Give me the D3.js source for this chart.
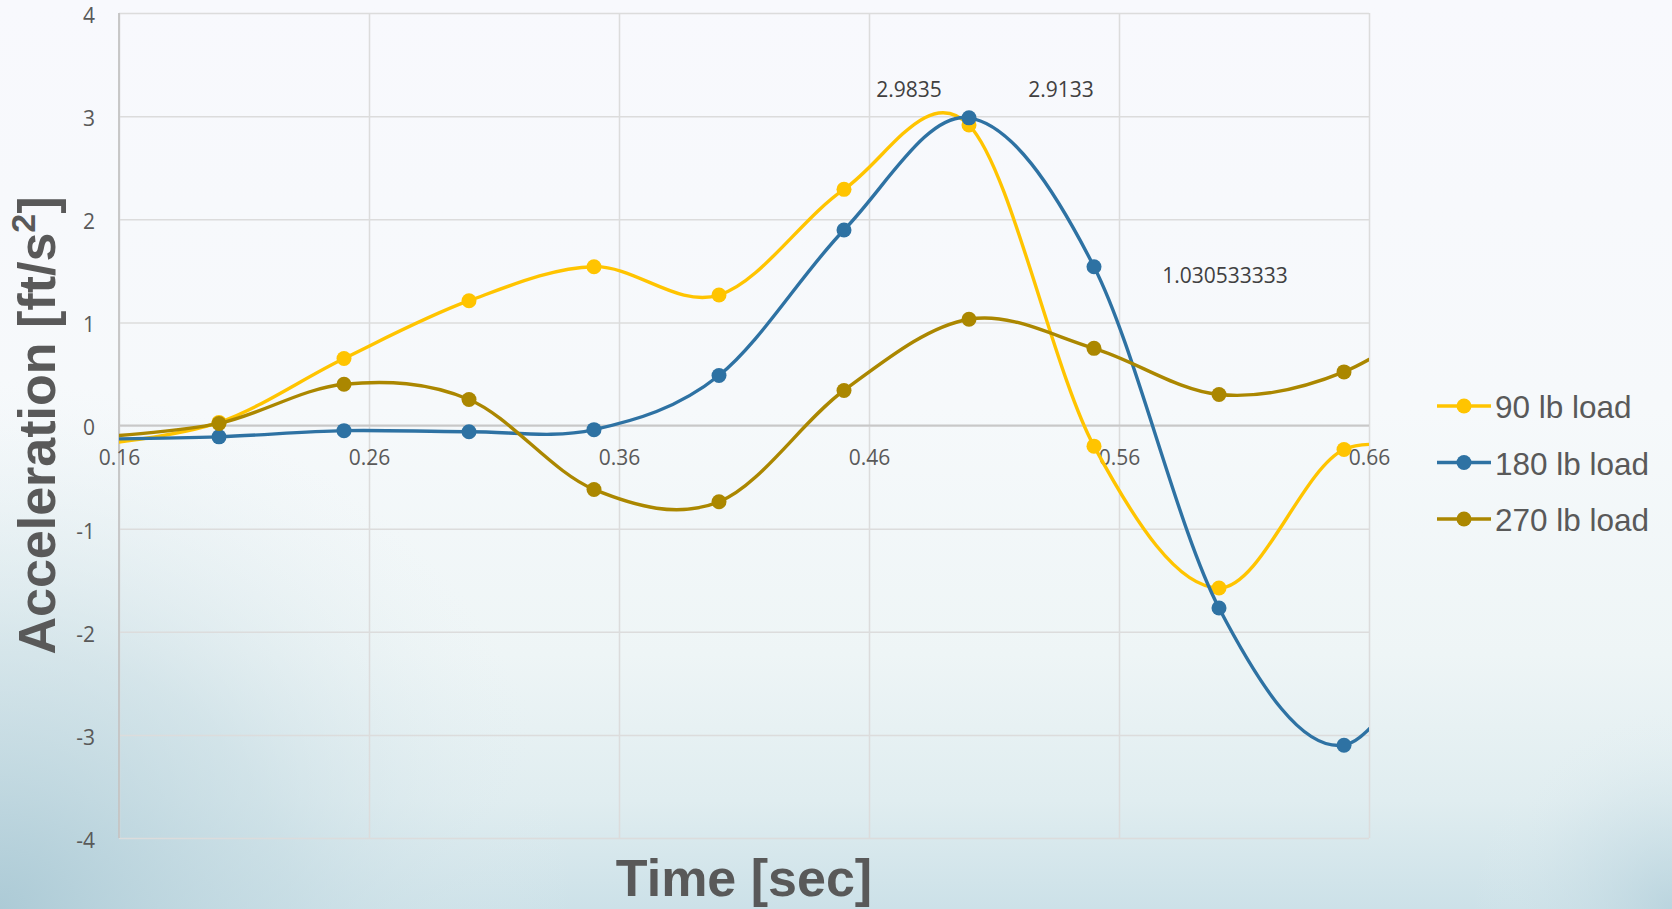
<!DOCTYPE html>
<html>
<head>
<meta charset="utf-8">
<script src="https://cdn.jsdelivr.net/npm/d3@7"></script>
<style>
  html, body { margin: 0; padding: 0; background: #f8f9fc; }
  svg { display: block; }
</style>
</head>
<body>
<svg id="chart" width="1672" height="909"></svg>
<script>
// Sample times (s); the first and last samples sit just outside the visible axis range
const times = [0.15, 0.20, 0.25, 0.30, 0.35, 0.40, 0.45, 0.50, 0.55, 0.60, 0.65, 0.70];

// Acceleration (ft/s^2) for each load
const load90  = [-0.188, 0.03, 0.65, 1.21, 1.54, 1.265, 2.29, 2.9133, -0.20, -1.576, -0.233, -0.45];
const load180 = [-0.132, -0.11, -0.05, -0.06, -0.04, 0.485, 1.896, 2.9835, 1.54, -1.77, -3.10, -1.42];
const load270 = [-0.114, 0.02, 0.40, 0.252, -0.62, -0.74, 0.34, 1.030533333, 0.748, 0.30, 0.52, 1.28];

const seriesNames  = ["90 lb load", "180 lb load", "270 lb load"];
const seriesColors = ["#ffc400", "#2e72a3", "#ab8700"];

// Axis setup
const xDomain = [0.16, 0.66];
const yDomain = [-4, 4];
const xTicks = [0.16, 0.26, 0.36, 0.46, 0.56, 0.66];
const xTickLabels = ["0.16", "0.26", "0.36", "0.46", "0.56", "0.66"];
const yTicks = [-4, -3, -2, -1, 0, 1, 2, 3, 4];
const yTickLabels = ["-4", "-3", "-2", "-1", "0", "1", "2", "3", "4"];

// Values shown as data labels: [series index, sample index]
const labelled = [[1, 7], [0, 7], [2, 7]];

const svg = d3.select("#chart");
const W = 1672, H = 909;
const plot = { left: 119, right: 1369, top: 13, bottom: 838 };

// ---- background ----
const defs = svg.append("defs");
const bg = defs.append("linearGradient").attr("id", "bgv")
  .attr("x1", 0).attr("y1", 0).attr("x2", 0).attr("y2", 1);
[[0, "#f8f9fd"], [0.45, "#f6f9fb"], [0.72, "#eef5f6"], [0.88, "#e0edf0"], [1, "#cce1e8"]]
  .forEach(([o, c]) => bg.append("stop").attr("offset", o).attr("stop-color", c));

const bl = defs.append("radialGradient").attr("id", "bl")
  .attr("gradientUnits", "userSpaceOnUse")
  .attr("cx", 0).attr("cy", 909).attr("r", 480)
  .attr("gradientTransform", "translate(0,909) scale(1.2,1.1) translate(0,-909)");
[[0, "#a9c8d4", 0.9], [0.5, "#c2d9e1", 0.55], [1, "#e6f0f3", 0]]
  .forEach(([o, c, a]) => bl.append("stop").attr("offset", o).attr("stop-color", c).attr("stop-opacity", a));

const br = defs.append("radialGradient").attr("id", "br")
  .attr("gradientUnits", "userSpaceOnUse")
  .attr("cx", 1672).attr("cy", 909).attr("r", 200);
[[0, "#b3cfda", 0.7], [0.6, "#cde0e7", 0.3], [1, "#e6f0f3", 0]]
  .forEach(([o, c, a]) => br.append("stop").attr("offset", o).attr("stop-color", c).attr("stop-opacity", a));

svg.append("rect").attr("width", W).attr("height", H).attr("fill", "url(#bgv)");
svg.append("rect").attr("width", W).attr("height", H).attr("fill", "url(#bl)");
svg.append("rect").attr("width", W).attr("height", H).attr("fill", "url(#br)");

defs.append("clipPath").attr("id", "plotClip")
  .append("rect")
  .attr("x", plot.left).attr("y", plot.top - 10)
  .attr("width", plot.right - plot.left).attr("height", plot.bottom - plot.top + 20);

// ---- scales ----
const x = d3.scaleLinear().domain(xDomain).range([plot.left, plot.right]);
const y = d3.scaleLinear().domain(yDomain).range([plot.bottom, plot.top]);

// ---- gridlines ----
const gridColor = "#dcdcdc";
const yGrid = svg.append("g")
  .attr("transform", `translate(${plot.left},0)`)
  .call(d3.axisLeft(y).tickValues(yTicks).tickSize(-(plot.right - plot.left)).tickFormat(""));
yGrid.select(".domain").remove();
yGrid.selectAll("line").attr("stroke", gridColor).attr("stroke-width", 1.5);

const xGrid = svg.append("g")
  .attr("transform", `translate(0,${plot.bottom})`)
  .call(d3.axisBottom(x).tickValues(xTicks).tickSize(-(plot.bottom - plot.top)).tickFormat(""));
xGrid.select(".domain").remove();
xGrid.selectAll("line").attr("stroke", gridColor).attr("stroke-width", 1.5);

// vertical axis line and the horizontal axis at zero
svg.append("line")
  .attr("x1", plot.left).attr("x2", plot.left)
  .attr("y1", plot.top).attr("y2", plot.bottom)
  .attr("stroke", "#c4c4c4").attr("stroke-width", 1.8);
svg.append("line")
  .attr("x1", plot.left).attr("x2", plot.right)
  .attr("y1", y(0)).attr("y2", y(0))
  .attr("stroke", "#c8c8c8").attr("stroke-width", 1.8);

// ---- tick labels ----
const tickFont = "'Open Sans', 'DejaVu Sans', sans-serif";
const yAxis = svg.append("g")
  .attr("transform", `translate(${plot.left},0)`)
  .call(d3.axisLeft(y).tickValues(yTicks).tickSize(0).tickPadding(24)
    .tickFormat((d, i) => yTickLabels[i]));
yAxis.select(".domain").remove();
yAxis.selectAll("text")
  .attr("dy", "0.45em")
  .attr("font-family", tickFont).attr("font-size", 21).attr("fill", "#595959");

const xAxis = svg.append("g")
  .attr("transform", `translate(0,${y(0)})`)
  .call(d3.axisBottom(x).tickValues(xTicks).tickSize(0).tickPadding(25)
    .tickFormat((d, i) => xTickLabels[i]));
xAxis.select(".domain").remove();
xAxis.selectAll("text")
  .attr("font-family", tickFont).attr("font-size", 21).attr("fill", "#595959");

// ---- series ----
const allSeries = [load90, load180, load270];
const line = d3.line()
  .x((d, i) => x(times[i]))
  .y(d => y(d))
  .curve(d3.curveCatmullRom.alpha(0));

const plotLayer = svg.append("g").attr("clip-path", "url(#plotClip)");
allSeries.forEach((vals, s) => {
  const g = plotLayer.append("g");
  g.append("path")
    .datum(vals)
    .attr("d", line)
    .attr("fill", "none")
    .attr("stroke", seriesColors[s])
    .attr("stroke-width", 3.4)
    .attr("stroke-linejoin", "round");
  g.selectAll("circle")
    .data(vals.map((v, i) => ({ t: times[i], v })).filter(d => d.t >= xDomain[0] && d.t <= xDomain[1]))
    .join("circle")
    .attr("cx", d => x(d.t))
    .attr("cy", d => y(d.v))
    .attr("r", 7.5)
    .attr("fill", seriesColors[s]);
});

// ---- data labels ----
const labelOffsets = [[-60, -21], [92, -28], [256, -36]];
labelled.forEach(([s, i], k) => {
  svg.append("text")
    .attr("x", x(times[i]) + labelOffsets[k][0])
    .attr("y", y(allSeries[s][i]) + labelOffsets[k][1])
    .attr("text-anchor", "middle")
    .attr("font-family", tickFont)
    .attr("font-size", 21)
    .attr("fill", "#404040")
    .text(String(allSeries[s][i]));
});

// ---- legend ----
const legend = svg.append("g").attr("transform", "translate(1437,406)");
seriesNames.forEach((name, s) => {
  const row = legend.append("g").attr("transform", `translate(0,${s * 56.5})`);
  row.append("line").attr("x1", 0).attr("x2", 54).attr("y1", 0).attr("y2", 0)
    .attr("stroke", seriesColors[s]).attr("stroke-width", 3.4);
  row.append("circle").attr("cx", 27).attr("cy", 0).attr("r", 7.5).attr("fill", seriesColors[s]);
  row.append("text").attr("x", 58).attr("y", 12)
    .attr("font-family", "'Liberation Sans', Arial, sans-serif")
    .attr("font-size", 31.5).attr("fill", "#595959")
    .text(name);
});

// ---- axis titles ----
const titleFont = "'Liberation Sans', Arial, sans-serif";
svg.append("text")
  .attr("x", (plot.left + plot.right) / 2)
  .attr("y", 896)
  .attr("text-anchor", "middle")
  .attr("font-family", titleFont).attr("font-weight", "bold")
  .attr("font-size", 52).attr("fill", "#595959")
  .text("Time [sec]");

const yTitle = svg.append("text")
  .attr("transform", `translate(55,${(plot.top + plot.bottom) / 2}) rotate(-90)`)
  .attr("text-anchor", "middle")
  .attr("font-family", titleFont).attr("font-weight", "bold")
  .attr("font-size", 52).attr("fill", "#595959");
yTitle.append("tspan").text("Acceleration [ft/s");
yTitle.append("tspan").attr("font-size", 34).attr("dy", -20).text("2");
yTitle.append("tspan").attr("dy", 20).text("]");
</script>
</body>
</html>
